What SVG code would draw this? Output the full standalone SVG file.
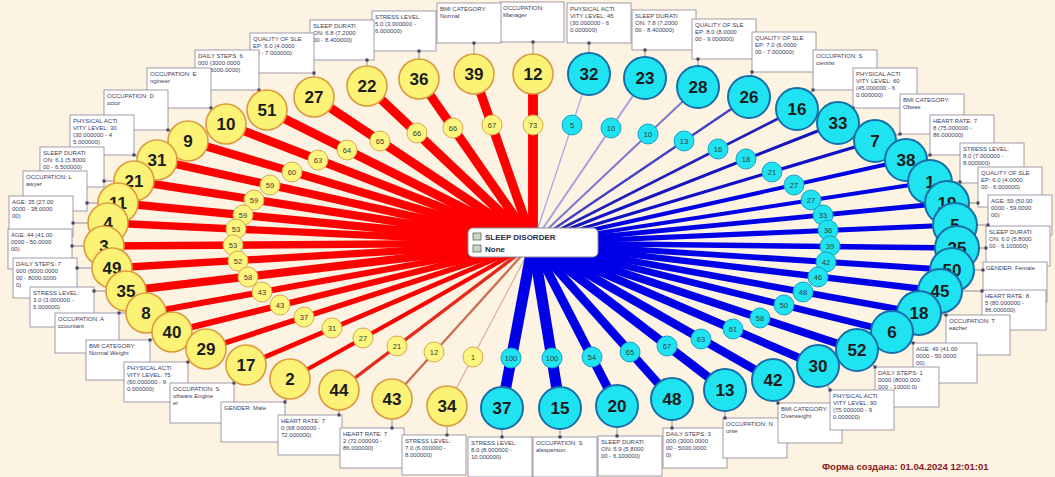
<svg xmlns="http://www.w3.org/2000/svg" width="1055" height="477" viewBox="0 0 1055 477">
<style>
.bg{fill:#fcf3e2}
.tag rect{fill:#ffffff;stroke:#8c8399;stroke-width:0.8}
.tag text{font-family:"Liberation Sans",Arial,sans-serif;font-size:6px;fill:#3c3c5a}
.tc{stroke:#7a7090;stroke-width:0.8;fill:none}
.dot{fill:#4a4060}
.y circle{fill:#fcf275;stroke:#dc9a3c;stroke-width:1.6}
.c circle{fill:#1fe3f0;stroke:#166fa8;stroke-width:2}
.y text,.c text{font-family:"Liberation Sans",Arial,sans-serif;font-size:17px;font-weight:bold;fill:#1c1c1c;text-anchor:middle}
.ys{fill:#fcf57e;stroke:#d8aa50;stroke-width:1}
.cs{fill:#1fe3f0;stroke:#1aa0c8;stroke-width:1}
.st{font-family:"Liberation Sans",Arial,sans-serif;font-size:7.5px;fill:#3a3a3a;text-anchor:middle}
.rl{stroke:#ff0000;fill:none}
.bl{stroke:#0000e8;fill:none}
</style>
<rect class="bg" x="0" y="0" width="1055" height="477"/>

<g id="tags">
<g id="t12" class="tag"><rect x="500" y="2" width="64" height="40"/><text><tspan x="503" y="10">OCCUPATION:</tspan><tspan x="503" y="17">Manager</tspan></text></g>
<g id="t39" class="tag"><rect x="437" y="3" width="64" height="40"/><text><tspan x="440" y="11">BMI CATEGORY:</tspan><tspan x="440" y="18">Normal</tspan></text></g>
<g id="t36" class="tag"><rect x="372" y="11" width="64" height="40"/><text><tspan x="375" y="19">STRESS LEVEL:</tspan><tspan x="375" y="26">5.0 (3.000000 -</tspan><tspan x="375" y="33">6.000000)</tspan></text></g>
<g id="t22" class="tag"><rect x="310" y="20" width="64" height="40"/><text><tspan x="313" y="28">SLEEP DURATI</tspan><tspan x="313" y="35">ON: 6.8 (7.2000</tspan><tspan x="313" y="42">00 - 8.400000)</tspan></text></g>
<g id="t27" class="tag"><rect x="250" y="33" width="64" height="40"/><text><tspan x="253" y="41">QUALITY OF SLE</tspan><tspan x="253" y="48">EP: 6.0 (4.0000</tspan><tspan x="253" y="55">00 - 7.000000)</tspan></text></g>
<g id="t51" class="tag"><rect x="195" y="50" width="64" height="40"/><text><tspan x="198" y="58">DAILY STEPS: 6</tspan><tspan x="198" y="65">000 (3000.0000</tspan><tspan x="198" y="72">00 - 6000.0000)</tspan></text></g>
<g id="t10" class="tag"><rect x="147" y="68" width="64" height="40"/><text><tspan x="150" y="76">OCCUPATION: E</tspan><tspan x="150" y="83">ngineer</tspan></text></g>
<g id="t9" class="tag"><rect x="104" y="90" width="64" height="40"/><text><tspan x="107" y="98">OCCUPATION: D</tspan><tspan x="107" y="105">octor</tspan></text></g>
<g id="t31" class="tag"><rect x="70" y="115" width="64" height="40"/><text><tspan x="73" y="123">PHYSICAL ACTI</tspan><tspan x="73" y="130">VITY LEVEL: 30</tspan><tspan x="73" y="137">(30.000000 - 4</tspan><tspan x="73" y="144">5.000000)</tspan></text></g>
<g id="t21" class="tag"><rect x="40" y="147" width="64" height="40"/><text><tspan x="43" y="155">SLEEP DURATI</tspan><tspan x="43" y="162">ON: 6.1 (5.8000</tspan><tspan x="43" y="169">00 - 6.500000)</tspan></text></g>
<g id="t11" class="tag"><rect x="23" y="171" width="64" height="40"/><text><tspan x="26" y="179">OCCUPATION: L</tspan><tspan x="26" y="186">awyer</tspan></text></g>
<g id="t4" class="tag"><rect x="9" y="196" width="64" height="40"/><text><tspan x="12" y="204">AGE: 35 (27.00</tspan><tspan x="12" y="211">0000 - 38.0000</tspan><tspan x="12" y="218">00)</tspan></text></g>
<g id="t3" class="tag"><rect x="8" y="229" width="64" height="40"/><text><tspan x="11" y="237">AGE: 44 (41.00</tspan><tspan x="11" y="244">0000 - 50.0000</tspan><tspan x="11" y="251">00)</tspan></text></g>
<g id="t49" class="tag"><rect x="13" y="258" width="64" height="40"/><text><tspan x="16" y="266">DAILY STEPS: 7</tspan><tspan x="16" y="273">000 (6000.0000</tspan><tspan x="16" y="280">00 - 8000.0000</tspan><tspan x="16" y="287">0)</tspan></text></g>
<g id="t35" class="tag"><rect x="30" y="287" width="64" height="40"/><text><tspan x="33" y="295">STRESS LEVEL:</tspan><tspan x="33" y="302">3.0 (3.000000 -</tspan><tspan x="33" y="309">5.000000)</tspan></text></g>
<g id="t8" class="tag"><rect x="55" y="313" width="64" height="40"/><text><tspan x="58" y="321">OCCUPATION: A</tspan><tspan x="58" y="328">ccountant</tspan></text></g>
<g id="t40" class="tag"><rect x="86" y="340" width="64" height="40"/><text><tspan x="89" y="348">BMI CATEGORY:</tspan><tspan x="89" y="355">Normal Weight</tspan></text></g>
<g id="t29" class="tag"><rect x="124" y="362" width="64" height="40"/><text><tspan x="127" y="370">PHYSICAL ACTI</tspan><tspan x="127" y="377">VITY LEVEL: 75</tspan><tspan x="127" y="384">(60.000000 - 9</tspan><tspan x="127" y="391">0.000000)</tspan></text></g>
<g id="t17" class="tag"><rect x="170" y="383" width="64" height="40"/><text><tspan x="173" y="391">OCCUPATION: S</tspan><tspan x="173" y="398">oftware Engine</tspan><tspan x="173" y="405">er</tspan></text></g>
<g id="t2" class="tag"><rect x="221" y="402" width="64" height="40"/><text><tspan x="224" y="410">GENDER: Male</tspan></text></g>
<g id="t44" class="tag"><rect x="278" y="415" width="64" height="40"/><text><tspan x="281" y="423">HEART RATE: 7</tspan><tspan x="281" y="430">0 (68.000000 -</tspan><tspan x="281" y="437">72.000000)</tspan></text></g>
<g id="t43" class="tag"><rect x="340" y="428" width="64" height="40"/><text><tspan x="343" y="436">HEART RATE: 7</tspan><tspan x="343" y="443">2 (72.000000 -</tspan><tspan x="343" y="450">86.000000)</tspan></text></g>
<g id="t34" class="tag"><rect x="402" y="435" width="64" height="40"/><text><tspan x="405" y="443">STRESS LEVEL:</tspan><tspan x="405" y="450">7.0 (6.000000 -</tspan><tspan x="405" y="457">8.000000)</tspan></text></g>
<g id="t32" class="tag"><rect x="567" y="3" width="64" height="40"/><text><tspan x="570" y="11">PHYSICAL ACTI</tspan><tspan x="570" y="18">VITY LEVEL: 45</tspan><tspan x="570" y="25">(30.000000 - 6</tspan><tspan x="570" y="32">0.000000)</tspan></text></g>
<g id="t23" class="tag"><rect x="632" y="10" width="64" height="40"/><text><tspan x="635" y="18">SLEEP DURATI</tspan><tspan x="635" y="25">ON: 7.8 (7.2000</tspan><tspan x="635" y="32">00 - 8.400000)</tspan></text></g>
<g id="t28" class="tag"><rect x="692" y="19" width="64" height="40"/><text><tspan x="695" y="27">QUALITY OF SLE</tspan><tspan x="695" y="34">EP: 8.0 (8.0000</tspan><tspan x="695" y="41">00 - 9.000000)</tspan></text></g>
<g id="t26" class="tag"><rect x="752" y="32" width="64" height="40"/><text><tspan x="755" y="40">QUALITY OF SLE</tspan><tspan x="755" y="47">EP: 7.0 (6.0000</tspan><tspan x="755" y="54">00 - 7.000000)</tspan></text></g>
<g id="t16" class="tag"><rect x="813" y="50" width="64" height="40"/><text><tspan x="816" y="58">OCCUPATION: S</tspan><tspan x="816" y="65">cientist</tspan></text></g>
<g id="t33" class="tag"><rect x="853" y="68" width="64" height="40"/><text><tspan x="856" y="76">PHYSICAL ACTI</tspan><tspan x="856" y="83">VITY LEVEL: 60</tspan><tspan x="856" y="90">(45.000000 - 6</tspan><tspan x="856" y="97">0.000000)</tspan></text></g>
<g id="t7" class="tag"><rect x="900" y="94" width="64" height="40"/><text><tspan x="903" y="102">BMI CATEGORY:</tspan><tspan x="903" y="109">Obese</tspan></text></g>
<g id="t38" class="tag"><rect x="930" y="115" width="64" height="40"/><text><tspan x="933" y="123">HEART RATE: 7</tspan><tspan x="933" y="130">8 (75.000000 -</tspan><tspan x="933" y="137">86.000000)</tspan></text></g>
<g id="t1" class="tag"><rect x="960" y="143" width="64" height="40"/><text><tspan x="963" y="151">STRESS LEVEL:</tspan><tspan x="963" y="158">8.0 (7.000000 -</tspan><tspan x="963" y="165">8.000000)</tspan></text></g>
<g id="t19" class="tag"><rect x="978" y="167" width="64" height="40"/><text><tspan x="981" y="175">QUALITY OF SLE</tspan><tspan x="981" y="182">EP: 6.0 (4.0000</tspan><tspan x="981" y="189">00 - 6.000000)</tspan></text></g>
<g id="t5" class="tag"><rect x="988" y="195" width="64" height="40"/><text><tspan x="991" y="203">AGE: 59 (50.00</tspan><tspan x="991" y="210">0000 - 59.0000</tspan><tspan x="991" y="217">00)</tspan></text></g>
<g id="t25" class="tag"><rect x="986" y="226" width="64" height="40"/><text><tspan x="989" y="234">SLEEP DURATI</tspan><tspan x="989" y="241">ON: 6.0 (5.8000</tspan><tspan x="989" y="248">00 - 6.100000)</tspan></text></g>
<g id="t50" class="tag"><rect x="983" y="262" width="64" height="40"/><text><tspan x="986" y="270">GENDER: Female</tspan></text></g>
<g id="t45" class="tag"><rect x="982" y="290" width="64" height="40"/><text><tspan x="985" y="298">HEART RATE: 8</tspan><tspan x="985" y="305">5 (80.000000 -</tspan><tspan x="985" y="312">86.000000)</tspan></text></g>
<g id="t18" class="tag"><rect x="946" y="315" width="64" height="40"/><text><tspan x="949" y="323">OCCUPATION: T</tspan><tspan x="949" y="330">eacher</tspan></text></g>
<g id="t6" class="tag"><rect x="913" y="343" width="64" height="40"/><text><tspan x="916" y="351">AGE: 49 (41.00</tspan><tspan x="916" y="358">0000 - 50.0000</tspan><tspan x="916" y="365">00)</tspan></text></g>
<g id="t52" class="tag"><rect x="875" y="367" width="64" height="40"/><text><tspan x="878" y="375">DAILY STEPS: 1</tspan><tspan x="878" y="382">0000 (8000.000</tspan><tspan x="878" y="389">000 - 10000.0)</tspan></text></g>
<g id="t37" class="tag"><rect x="468" y="437" width="64" height="40"/><text><tspan x="471" y="445">STRESS LEVEL:</tspan><tspan x="471" y="452">8.0 (8.000000 -</tspan><tspan x="471" y="459">10.000000)</tspan></text></g>
<g id="t15" class="tag"><rect x="533" y="437" width="64" height="40"/><text><tspan x="536" y="445">OCCUPATION: S</tspan><tspan x="536" y="452">alesperson</tspan></text></g>
<g id="t20" class="tag"><rect x="598" y="436" width="64" height="40"/><text><tspan x="601" y="444">SLEEP DURATI</tspan><tspan x="601" y="451">ON: 5.9 (5.8000</tspan><tspan x="601" y="458">00 - 6.100000)</tspan></text></g>
<g id="t48" class="tag"><rect x="663" y="428" width="64" height="40"/><text><tspan x="666" y="436">DAILY STEPS: 3</tspan><tspan x="666" y="443">000 (3000.0000</tspan><tspan x="666" y="450">00 - 5000.0000</tspan><tspan x="666" y="457">0)</tspan></text></g>
<g id="t13" class="tag"><rect x="723" y="418" width="64" height="40"/><text><tspan x="726" y="426">OCCUPATION: N</tspan><tspan x="726" y="433">urse</tspan></text></g>
<g id="t42" class="tag"><rect x="778" y="403" width="64" height="40"/><text><tspan x="781" y="411">BMI CATEGORY:</tspan><tspan x="781" y="418">Overweight</tspan></text></g>
<g id="t30" class="tag"><rect x="830" y="390" width="64" height="40"/><text><tspan x="833" y="398">PHYSICAL ACTI</tspan><tspan x="833" y="405">VITY LEVEL: 90</tspan><tspan x="833" y="412">(75.000000 - 9</tspan><tspan x="833" y="419">0.000000)</tspan></text></g>
</g>

<g id="connectors">
<g id="tag-links" class="tc">
<path d="M533 74L533 42M474 74L474 43M419 79L419 51M367 86L367 60M314 97L314 73M267 110L259 90M226 124L211 108M188 141L168 130M157 160L134 155M134 181L104 181M118 203L87 203M108 223L73 223M104 246L72 246M112 268L77 268M126 291L94 291M146 313L119 313M172 332L150 340M206 349L188 362M246 365L234 383M290 379L285 402M339 390L339 415M392 399L392 428M447 406L447 435"/>
<path d="M502 408L502 437M560 408L560 437M617 406L617 436M672 399L672 428M725 390L725 418M773 380L778 403M818 366L830 390M857 350L875 367M892 332L913 343M919 313L946 315M940 291L982 291M952 270L983 270M957 248L986 248M955 225L988 225M947 203L978 203M930 182L960 182M906 160L930 155M875 141L900 134M838 123L853 108M797 109L813 90M749 97L752 72M698 87L698 59M645 78L645 50M589 74L589 43"/>
</g>
<g id="tag-dots" class="dot">
<rect x="531.5" y="40.5" width="3" height="3"/><rect x="472.5" y="41.5" width="3" height="3"/><rect x="417.5" y="49.5" width="3" height="3"/><rect x="365.5" y="58.5" width="3" height="3"/><rect x="312.5" y="71.5" width="3" height="3"/><rect x="257.5" y="88.5" width="3" height="3"/><rect x="209.5" y="106.5" width="3" height="3"/><rect x="166.5" y="128.5" width="3" height="3"/><rect x="132.5" y="153.5" width="3" height="3"/><rect x="102.5" y="179.5" width="3" height="3"/><rect x="85.5" y="201.5" width="3" height="3"/><rect x="71.5" y="221.5" width="3" height="3"/><rect x="70.5" y="244.5" width="3" height="3"/><rect x="75.5" y="266.5" width="3" height="3"/><rect x="92.5" y="289.5" width="3" height="3"/><rect x="117.5" y="311.5" width="3" height="3"/><rect x="148.5" y="338.5" width="3" height="3"/><rect x="186.5" y="360.5" width="3" height="3"/><rect x="232.5" y="381.5" width="3" height="3"/><rect x="283.5" y="400.5" width="3" height="3"/><rect x="337.5" y="413.5" width="3" height="3"/><rect x="390.5" y="426.5" width="3" height="3"/><rect x="445.5" y="433.5" width="3" height="3"/>
<rect x="500.5" y="435.5" width="3" height="3"/><rect x="558.5" y="435.5" width="3" height="3"/><rect x="615.5" y="434.5" width="3" height="3"/><rect x="670.5" y="426.5" width="3" height="3"/><rect x="723.5" y="416.5" width="3" height="3"/><rect x="776.5" y="401.5" width="3" height="3"/><rect x="828.5" y="388.5" width="3" height="3"/><rect x="873.5" y="365.5" width="3" height="3"/><rect x="911.5" y="341.5" width="3" height="3"/><rect x="944.5" y="313.5" width="3" height="3"/><rect x="980.5" y="289.5" width="3" height="3"/><rect x="981.5" y="268.5" width="3" height="3"/><rect x="984.5" y="246.5" width="3" height="3"/><rect x="986.5" y="223.5" width="3" height="3"/><rect x="976.5" y="201.5" width="3" height="3"/><rect x="958.5" y="180.5" width="3" height="3"/><rect x="928.5" y="153.5" width="3" height="3"/><rect x="898.5" y="132.5" width="3" height="3"/><rect x="851.5" y="106.5" width="3" height="3"/><rect x="811.5" y="88.5" width="3" height="3"/><rect x="750.5" y="70.5" width="3" height="3"/><rect x="696.5" y="57.5" width="3" height="3"/><rect x="643.5" y="48.5" width="3" height="3"/><rect x="587.5" y="41.5" width="3" height="3"/>
</g>

<g id="red-links" class="rl">
<line x1="533" y1="243" x2="533" y2="74" stroke-width="9.9"/>
<line x1="533" y1="243" x2="474" y2="74" stroke-width="9.2"/>
<line x1="533" y1="243" x2="419" y2="79" stroke-width="9.1"/>
<line x1="533" y1="243" x2="367" y2="86" stroke-width="9.1"/>
<line x1="533" y1="243" x2="314" y2="97" stroke-width="8.9"/>
<line x1="533" y1="243" x2="267" y2="110" stroke-width="8.8"/>
<line x1="533" y1="243" x2="226" y2="124" stroke-width="8.7"/>
<line x1="533" y1="243" x2="188" y2="141" stroke-width="8.3"/>
<line x1="533" y1="243" x2="157" y2="160" stroke-width="8.2"/>
<line x1="533" y1="243" x2="134" y2="181" stroke-width="8.2"/>
<line x1="533" y1="243" x2="118" y2="203" stroke-width="8.2"/>
<line x1="533" y1="243" x2="108" y2="223" stroke-width="7.4"/>
<line x1="533" y1="243" x2="104" y2="246" stroke-width="7.4"/>
<line x1="533" y1="243" x2="112" y2="268" stroke-width="7.3"/>
<line x1="533" y1="243" x2="126" y2="291" stroke-width="8.1"/>
<line x1="533" y1="243" x2="146" y2="313" stroke-width="6.2"/>
<line x1="533" y1="243" x2="172" y2="332" stroke-width="6.2"/>
<line x1="533" y1="243" x2="206" y2="349" stroke-width="5.4"/>
<line x1="533" y1="243" x2="246" y2="365" stroke-width="4.7"/>
<line x1="533" y1="243" x2="290" y2="379" stroke-width="4.2"/>
<line x1="533" y1="243" x2="339" y2="390" stroke-width="3.4" stroke="#e82818"/>
<line x1="533" y1="243" x2="392" y2="399" stroke-width="2.3" stroke="#c87050"/>
<line x1="533" y1="243" x2="447" y2="406" stroke-width="1.1" stroke="#d8a890"/>
</g>
<g id="blue-links" class="bl">
<line x1="533" y1="243" x2="589" y2="74" stroke-width="1.4" stroke="#b4ace2"/>
<line x1="533" y1="243" x2="645" y2="78" stroke-width="2" stroke="#a6a0e0"/>
<line x1="533" y1="243" x2="698" y2="87" stroke-width="2" stroke="#7c78d0"/>
<line x1="533" y1="243" x2="749" y2="97" stroke-width="2.4" stroke="#4440c4"/>
<line x1="533" y1="243" x2="797" y2="109" stroke-width="2.7" stroke="#2020b8"/>
<line x1="533" y1="243" x2="838" y2="123" stroke-width="3" stroke="#1414c0"/>
<line x1="533" y1="243" x2="875" y2="141" stroke-width="3.3" stroke="#1010c8"/>
<line x1="533" y1="243" x2="906" y2="160" stroke-width="4"/>
<line x1="533" y1="243" x2="930" y2="182" stroke-width="4"/>
<line x1="533" y1="243" x2="947" y2="203" stroke-width="4.8"/>
<line x1="533" y1="243" x2="955" y2="225" stroke-width="5.1"/>
<line x1="533" y1="243" x2="957" y2="248" stroke-width="5.5"/>
<line x1="533" y1="243" x2="952" y2="270" stroke-width="5.8"/>
<line x1="533" y1="243" x2="940" y2="291" stroke-width="6.3"/>
<line x1="533" y1="243" x2="919" y2="313" stroke-width="6.6"/>
<line x1="533" y1="243" x2="892" y2="332" stroke-width="6.8"/>
<line x1="533" y1="243" x2="857" y2="350" stroke-width="7.8"/>
<line x1="533" y1="243" x2="818" y2="366" stroke-width="8.1"/>
<line x1="533" y1="243" x2="773" y2="380" stroke-width="8.4"/>
<line x1="533" y1="243" x2="725" y2="390" stroke-width="8.8"/>
<line x1="533" y1="243" x2="672" y2="399" stroke-width="8.6"/>
<line x1="533" y1="243" x2="617" y2="406" stroke-width="9"/>
<line x1="533" y1="243" x2="560" y2="408" stroke-width="11"/>
<line x1="533" y1="243" x2="502" y2="408" stroke-width="11"/>
</g>

<g id="link-labels">
<g><circle class="ys" cx="533" cy="125" r="10"/><text class="st" x="533" y="128">73</text></g>
<g><circle class="ys" cx="492" cy="125" r="10"/><text class="st" x="492" y="128">67</text></g>
<g><circle class="ys" cx="453" cy="128" r="10"/><text class="st" x="453" y="131">66</text></g>
<g><circle class="ys" cx="417" cy="133" r="10"/><text class="st" x="417" y="136">66</text></g>
<g><circle class="ys" cx="380" cy="141" r="10"/><text class="st" x="380" y="144">65</text></g>
<g><circle class="ys" cx="347" cy="150" r="10"/><text class="st" x="347" y="153">64</text></g>
<g><circle class="ys" cx="318" cy="160" r="10"/><text class="st" x="318" y="163">63</text></g>
<g><circle class="ys" cx="292" cy="172" r="10"/><text class="st" x="292" y="175">60</text></g>
<g><circle class="ys" cx="270" cy="185" r="10"/><text class="st" x="270" y="188">59</text></g>
<g><circle class="ys" cx="254" cy="200" r="10"/><text class="st" x="254" y="203">59</text></g>
<g><circle class="ys" cx="243" cy="215" r="10"/><text class="st" x="243" y="218">59</text></g>
<g><circle class="ys" cx="236" cy="229" r="10"/><text class="st" x="236" y="232">53</text></g>
<g><circle class="ys" cx="233" cy="245" r="10"/><text class="st" x="233" y="248">53</text></g>
<g><circle class="ys" cx="238" cy="261" r="10"/><text class="st" x="238" y="264">52</text></g>
<g><circle class="ys" cx="248" cy="277" r="10"/><text class="st" x="248" y="280">58</text></g>
<g><circle class="ys" cx="262" cy="292" r="10"/><text class="st" x="262" y="295">43</text></g>
<g><circle class="ys" cx="280" cy="305" r="10"/><text class="st" x="280" y="308">43</text></g>
<g><circle class="ys" cx="304" cy="317" r="10"/><text class="st" x="304" y="320">37</text></g>
<g><circle class="ys" cx="332" cy="328" r="10"/><text class="st" x="332" y="331">31</text></g>
<g><circle class="ys" cx="363" cy="338" r="10"/><text class="st" x="363" y="341">27</text></g>
<g><circle class="ys" cx="397" cy="346" r="10"/><text class="st" x="397" y="349">21</text></g>
<g><circle class="ys" cx="434" cy="352" r="10"/><text class="st" x="434" y="355">12</text></g>
<g><circle class="ys" cx="473" cy="357" r="10"/><text class="st" x="473" y="360">1</text></g>
<g><circle class="cs" cx="572" cy="125" r="10"/><text class="st" x="572" y="128">5</text></g>
<g><circle class="cs" cx="611" cy="128" r="10"/><text class="st" x="611" y="131">10</text></g>
<g><circle class="cs" cx="648" cy="134" r="10"/><text class="st" x="648" y="137">10</text></g>
<g><circle class="cs" cx="684" cy="141" r="10"/><text class="st" x="684" y="144">13</text></g>
<g><circle class="cs" cx="718" cy="149" r="10"/><text class="st" x="718" y="152">16</text></g>
<g><circle class="cs" cx="746" cy="159" r="10"/><text class="st" x="746" y="162">18</text></g>
<g><circle class="cs" cx="772" cy="172" r="10"/><text class="st" x="772" y="175">21</text></g>
<g><circle class="cs" cx="794" cy="185" r="10"/><text class="st" x="794" y="188">27</text></g>
<g><circle class="cs" cx="811" cy="200" r="10"/><text class="st" x="811" y="203">27</text></g>
<g><circle class="cs" cx="823" cy="215" r="10"/><text class="st" x="823" y="218">33</text></g>
<g><circle class="cs" cx="828" cy="230" r="10"/><text class="st" x="828" y="233">36</text></g>
<g><circle class="cs" cx="830" cy="246" r="10"/><text class="st" x="830" y="249">39</text></g>
<g><circle class="cs" cx="826" cy="262" r="10"/><text class="st" x="826" y="265">42</text></g>
<g><circle class="cs" cx="818" cy="277" r="10"/><text class="st" x="818" y="280">46</text></g>
<g><circle class="cs" cx="803" cy="292" r="10"/><text class="st" x="803" y="295">48</text></g>
<g><circle class="cs" cx="784" cy="305" r="10"/><text class="st" x="784" y="308">50</text></g>
<g><circle class="cs" cx="760" cy="318" r="10"/><text class="st" x="760" y="321">58</text></g>
<g><circle class="cs" cx="733" cy="329" r="10"/><text class="st" x="733" y="332">61</text></g>
<g><circle class="cs" cx="701" cy="339" r="10"/><text class="st" x="701" y="342">63</text></g>
<g><circle class="cs" cx="667" cy="346" r="10"/><text class="st" x="667" y="349">67</text></g>
<g><circle class="cs" cx="630" cy="352" r="10"/><text class="st" x="630" y="355">65</text></g>
<g><circle class="cs" cx="592" cy="357" r="10"/><text class="st" x="592" y="360">54</text></g>
<g><circle class="cs" cx="552" cy="358" r="10"/><text class="st" x="552" y="361">100</text></g>
<g><circle class="cs" cx="511" cy="358" r="10"/><text class="st" x="511" y="361">100</text></g>
</g>
</g>

<g id="center">
<rect x="468" y="228" width="130" height="29" rx="5" fill="#ffffff" stroke="#8c8c9c" stroke-width="1"/>
<rect x="473" y="233" width="8" height="7" fill="#c9d6c0" stroke="#606a60" stroke-width="0.8"/>
<rect x="473" y="245" width="8" height="7" fill="#c9d6c0" stroke="#606a60" stroke-width="0.8"/>
<text x="485" y="240" font-family="Liberation Sans, Arial, sans-serif" font-size="8" font-weight="bold" fill="#2c2c3c">SLEEP DISORDER</text>
<text x="485" y="252" font-family="Liberation Sans, Arial, sans-serif" font-size="8" font-weight="bold" fill="#2c2c3c">None</text>
</g>

<g id="nodes-yellow">
<g id="n12" class="y"><circle cx="533" cy="74" r="20"/><text x="533" y="80">12</text></g>
<g id="n39" class="y"><circle cx="474" cy="74" r="20"/><text x="474" y="80">39</text></g>
<g id="n36" class="y"><circle cx="419" cy="79" r="20"/><text x="419" y="85">36</text></g>
<g id="n22" class="y"><circle cx="367" cy="86" r="20"/><text x="367" y="92">22</text></g>
<g id="n27" class="y"><circle cx="314" cy="97" r="20"/><text x="314" y="103">27</text></g>
<g id="n51" class="y"><circle cx="267" cy="110" r="20"/><text x="267" y="116">51</text></g>
<g id="n10" class="y"><circle cx="226" cy="124" r="20"/><text x="226" y="130">10</text></g>
<g id="n9" class="y"><circle cx="188" cy="141" r="20"/><text x="188" y="147">9</text></g>
<g id="n31" class="y"><circle cx="157" cy="160" r="20"/><text x="157" y="166">31</text></g>
<g id="n21" class="y"><circle cx="134" cy="181" r="20"/><text x="134" y="187">21</text></g>
<g id="n11" class="y"><circle cx="118" cy="203" r="20"/><text x="118" y="209">11</text></g>
<g id="n4" class="y"><circle cx="108" cy="223" r="20"/><text x="108" y="229">4</text></g>
<g id="n3" class="y"><circle cx="104" cy="246" r="20"/><text x="104" y="252">3</text></g>
<g id="n49" class="y"><circle cx="112" cy="268" r="20"/><text x="112" y="274">49</text></g>
<g id="n35" class="y"><circle cx="126" cy="291" r="20"/><text x="126" y="297">35</text></g>
<g id="n8" class="y"><circle cx="146" cy="313" r="20"/><text x="146" y="319">8</text></g>
<g id="n40" class="y"><circle cx="172" cy="332" r="20"/><text x="172" y="338">40</text></g>
<g id="n29" class="y"><circle cx="206" cy="349" r="20"/><text x="206" y="355">29</text></g>
<g id="n17" class="y"><circle cx="246" cy="365" r="20"/><text x="246" y="371">17</text></g>
<g id="n2" class="y"><circle cx="290" cy="379" r="20"/><text x="290" y="385">2</text></g>
<g id="n44" class="y"><circle cx="339" cy="390" r="20"/><text x="339" y="396">44</text></g>
<g id="n43" class="y"><circle cx="392" cy="399" r="20"/><text x="392" y="405">43</text></g>
<g id="n34" class="y"><circle cx="447" cy="406" r="20"/><text x="447" y="412">34</text></g>
</g>

<g id="nodes-cyan">
<g id="n32" class="c"><circle cx="589" cy="74" r="21"/><text x="589" y="80">32</text></g>
<g id="n23" class="c"><circle cx="645" cy="78" r="21"/><text x="645" y="84">23</text></g>
<g id="n28" class="c"><circle cx="698" cy="87" r="21"/><text x="698" y="93">28</text></g>
<g id="n26" class="c"><circle cx="749" cy="97" r="21"/><text x="749" y="103">26</text></g>
<g id="n16" class="c"><circle cx="797" cy="109" r="21"/><text x="797" y="115">16</text></g>
<g id="n33" class="c"><circle cx="838" cy="123" r="21"/><text x="838" y="129">33</text></g>
<g id="n7" class="c"><circle cx="875" cy="141" r="21"/><text x="875" y="147">7</text></g>
<g id="n38" class="c"><circle cx="906" cy="160" r="21"/><text x="906" y="166">38</text></g>
<g id="n1" class="c"><circle cx="930" cy="182" r="22"/><text x="930" y="188">1</text></g>
<g id="n19" class="c"><circle cx="947" cy="203" r="22"/><text x="947" y="209">19</text></g>
<g id="n5" class="c"><circle cx="955" cy="225" r="22"/><text x="955" y="231">5</text></g>
<g id="n25" class="c"><circle cx="957" cy="248" r="22"/><text x="957" y="254">25</text></g>
<g id="n50" class="c"><circle cx="952" cy="270" r="22"/><text x="952" y="276">50</text></g>
<g id="n45" class="c"><circle cx="940" cy="291" r="22"/><text x="940" y="297">45</text></g>
<g id="n18" class="c"><circle cx="919" cy="313" r="22"/><text x="919" y="319">18</text></g>
<g id="n6" class="c"><circle cx="892" cy="332" r="21"/><text x="892" y="338">6</text></g>
<g id="n52" class="c"><circle cx="857" cy="350" r="21"/><text x="857" y="356">52</text></g>
<g id="n30" class="c"><circle cx="818" cy="366" r="21"/><text x="818" y="372">30</text></g>
<g id="n42" class="c"><circle cx="773" cy="380" r="21"/><text x="773" y="386">42</text></g>
<g id="n13" class="c"><circle cx="725" cy="390" r="21"/><text x="725" y="396">13</text></g>
<g id="n48" class="c"><circle cx="672" cy="399" r="21"/><text x="672" y="405">48</text></g>
<g id="n20" class="c"><circle cx="617" cy="406" r="21"/><text x="617" y="412">20</text></g>
<g id="n15" class="c"><circle cx="560" cy="408" r="21"/><text x="560" y="414">15</text></g>
<g id="n37" class="c"><circle cx="502" cy="408" r="21"/><text x="502" y="414">37</text></g>
</g>

<text x="822" y="470" font-family="Liberation Sans, Arial, sans-serif" font-size="9.5" font-weight="bold" fill="#8b1a1a">Форма создана: 01.04.2024 12:01:01</text>
</svg>
